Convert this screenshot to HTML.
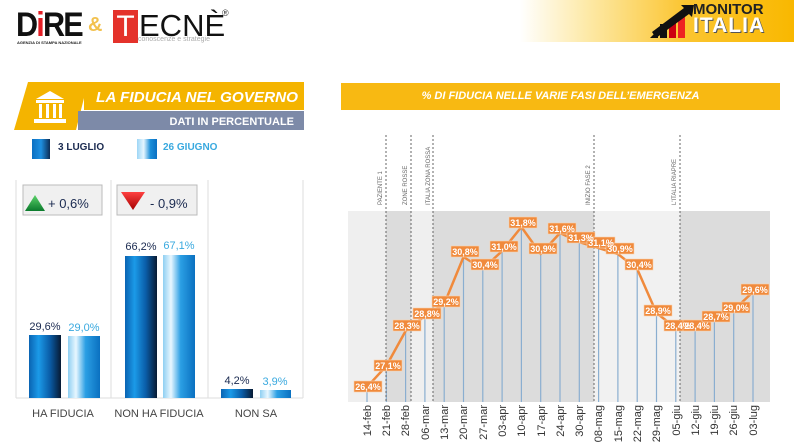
<!DOCTYPE html>
<html><head><meta charset="utf-8"><style>
body{margin:0;width:794px;height:446px;background:#fff;overflow:hidden;font-family:"Liberation Sans",sans-serif;position:relative}
.a{position:absolute}
</style></head><body>
<div class="a" style="left:520px;top:0;width:274px;height:42px;background:linear-gradient(90deg,#fff 0%,#fde9a6 25%,#fbc531 60%,#f9b800 100%)"></div>
<div class="a" style="left:16px;top:6px;font:900 34px 'Liberation Sans';color:#111;letter-spacing:-2px;transform:scaleX(0.9);transform-origin:left">D<span style="color:#e41e25">i</span>RE</div>
<div class="a" style="left:17px;top:40px;font:bold 4px 'Liberation Sans';color:#222">AGENZIA DI STAMPA NAZIONALE</div>
<div class="a" style="left:88px;top:14px;font:bold 20px 'Liberation Sans';color:#f2c14e">&amp;</div>
<div class="a" style="left:113px;top:10px;width:25px;height:33px;background:#e4322b;color:#fff;font:30px 'Liberation Sans';text-align:center;line-height:33px">T</div>
<div class="a" style="left:139px;top:9px;font:31px 'Liberation Sans';color:#111;line-height:33px">ECNÈ</div>
<div class="a" style="left:222px;top:8px;font:9px 'Liberation Sans';color:#333">®</div>
<div class="a" style="left:138px;top:36px;font:7px 'Liberation Sans';color:#aaa">conoscenze e strategie</div>
<svg class="a" style="left:648px;top:4px" width="62" height="36"><polygon points="2,34 10,26 10,34" fill="#111"/><rect x="12" y="20" width="7" height="14" fill="#111"/><rect x="21" y="16" width="7" height="18" fill="#c01"/><rect x="30" y="12" width="7" height="22" fill="#e22"/><polygon points="4,28 36,4 33,1 46,1 44,13 41,10 8,34" fill="#111"/></svg>
<div class="a" style="left:693px;top:1px;font:bold 15px 'Liberation Sans';color:#222">MONITOR</div>
<div class="a" style="left:693px;top:14px;font:900 21px 'Liberation Sans';color:#fff;text-shadow:1px 1px 0 #555;letter-spacing:1px">ITALIA</div>

<svg class="a" style="left:14px;top:80px" width="292" height="52">
<polygon points="14,2 74,2 62,50 0,50" fill="#f4b400"/>
<rect x="70" y="2" width="220" height="28" fill="#f4b400"/>
<rect x="64" y="31" width="226" height="19" fill="#7d8aa8"/>
<g fill="#fff"><polygon points="22,19 36,11 50,19"/><rect x="22" y="20" width="28" height="3"/><rect x="25" y="24" width="3" height="14"/><rect x="32" y="24" width="3" height="14"/><rect x="39" y="24" width="3" height="14"/><rect x="45" y="24" width="3" height="14"/><rect x="20" y="39" width="32" height="4"/></g>
<text x="82" y="22" font-family="Liberation Sans" font-weight="bold" font-style="italic" font-size="15" fill="#fff" textLength="202" lengthAdjust="spacingAndGlyphs">LA FIDUCIA NEL GOVERNO</text>
<text x="280" y="45" text-anchor="end" font-family="Liberation Sans" font-weight="bold" font-size="11" fill="#fff">DATI IN PERCENTUALE</text>
</svg>
<div class="a" style="left:32px;top:139px;width:18px;height:20px;background:linear-gradient(90deg,#0a6fc2,#1e8fe0,#0c2c55)"></div>
<div class="a" style="left:58px;top:142px;font:bold 10px 'Liberation Sans';color:#1a2a50">3 LUGLIO</div>
<div class="a" style="left:137px;top:139px;width:20px;height:20px;background:linear-gradient(90deg,#9dd6f6,#e6f6ff,#1b8fd9,#0a6fc2)"></div>
<div class="a" style="left:163px;top:142px;font:bold 10px 'Liberation Sans';color:#39a9df">26 GIUGNO</div>

<svg class="a" style="left:0;top:180px" width="320" height="266">
<defs>
<linearGradient id="d" x1="0" x2="1"><stop offset="0" stop-color="#0a63b2"/><stop offset=".3" stop-color="#1b9ae8"/><stop offset=".65" stop-color="#0a5da8"/><stop offset="1" stop-color="#071a33"/></linearGradient>
<linearGradient id="l" x1="0" x2="1"><stop offset="0" stop-color="#8fcff2"/><stop offset=".25" stop-color="#e8f7ff"/><stop offset=".55" stop-color="#2b9fe4"/><stop offset="1" stop-color="#0a70c0"/></linearGradient>
<linearGradient id="g" x1="0" y1="0" x2="0" y2="1"><stop offset="0" stop-color="#5cd36a"/><stop offset="1" stop-color="#0b7a2c"/></linearGradient>
<linearGradient id="r" x1="0" y1="0" x2="0" y2="1"><stop offset="0" stop-color="#ff4040"/><stop offset="1" stop-color="#a40000"/></linearGradient>
</defs>
<g stroke="#ddd"><line x1="16" y1="0" x2="16" y2="218"/><line x1="111" y1="0" x2="111" y2="218"/><line x1="208" y1="0" x2="208" y2="218"/><line x1="303" y1="0" x2="303" y2="218"/><line x1="16" y1="218" x2="303" y2="218"/></g>
<rect x="23" y="5" width="79" height="30" fill="#f0f0f0" stroke="#bbb"/>
<polygon points="25,31 35,15 45,31" fill="url(#g)"/>
<text x="48" y="28" font-family="Liberation Sans" font-size="13" fill="#1a2a50">+ 0,6%</text>
<rect x="117" y="5" width="80" height="30" fill="#f0f0f0" stroke="#bbb"/>
<polygon points="121,12 145,12 133,30" fill="url(#r)"/>
<text x="150" y="28" font-family="Liberation Sans" font-size="13" fill="#1a2a50">- 0,9%</text>
<rect x="29" y="155" width="32" height="63" fill="url(#d)"/>
<rect x="68" y="156" width="32" height="62" fill="url(#l)"/>
<rect x="125" y="76" width="32" height="142" fill="url(#d)"/>
<rect x="163" y="75" width="32" height="143" fill="url(#l)"/>
<rect x="221" y="209" width="32" height="9" fill="url(#d)"/>
<rect x="260" y="210" width="31" height="8" fill="url(#l)"/>
<g font-family="Liberation Sans" font-size="11" text-anchor="middle">
<text x="45" y="150" fill="#1a2a50">29,6%</text><text x="84" y="151" fill="#39a9df">29,0%</text>
<text x="141" y="70" fill="#1a2a50">66,2%</text><text x="179" y="69" fill="#39a9df">67,1%</text>
<text x="237" y="204" fill="#1a2a50">4,2%</text><text x="275" y="205" fill="#39a9df">3,9%</text>
</g>
<g font-family="Liberation Sans" font-size="11" text-anchor="middle" fill="#444">
<text x="63" y="237">HA FIDUCIA</text><text x="159" y="237">NON HA FIDUCIA</text><text x="256" y="237">NON SA</text>
</g>
</svg>

<div class="a" style="left:341px;top:83px;width:439px;height:27px;background:#f8b912;color:#fff;font:italic bold 11px 'Liberation Sans';text-align:center;line-height:27px">% DI FIDUCIA NELLE VARIE FASI DELL’EMERGENZA</div>
<svg class="a" style="left:0;top:0" width="794" height="446">
<rect x="348" y="211" width="38" height="191" fill="#efefef"/>
<rect x="386" y="211" width="25" height="191" fill="#dcdcdc"/>
<rect x="411" y="211" width="22" height="191" fill="#efefef"/>
<rect x="433" y="211" width="161" height="191" fill="#dcdcdc"/>
<rect x="594" y="211" width="86" height="191" fill="#f1f1f1"/>
<rect x="680" y="211" width="90" height="191" fill="#dcdcdc"/>
<g stroke="#8aaed0" stroke-width="1.2">
<line x1="367" y1="387" x2="367" y2="402"/><line x1="386.3" y1="366" x2="386.3" y2="402"/><line x1="405.6" y1="331" x2="405.6" y2="402"/><line x1="424.9" y1="316" x2="424.9" y2="402"/><line x1="444.2" y1="304" x2="444.2" y2="402"/><line x1="463.5" y1="257" x2="463.5" y2="402"/><line x1="482.8" y1="269" x2="482.8" y2="402"/><line x1="502.1" y1="251" x2="502.1" y2="402"/><line x1="521.4" y1="227" x2="521.4" y2="402"/><line x1="540.7" y1="254" x2="540.7" y2="402"/><line x1="560" y1="233" x2="560" y2="402"/><line x1="579.3" y1="242" x2="579.3" y2="402"/><line x1="598.6" y1="248" x2="598.6" y2="402"/><line x1="617.9" y1="254" x2="617.9" y2="402"/><line x1="637.2" y1="269" x2="637.2" y2="402"/><line x1="656.5" y1="313" x2="656.5" y2="402"/><line x1="675.8" y1="328" x2="675.8" y2="402"/><line x1="695.1" y1="328" x2="695.1" y2="402"/><line x1="714.4" y1="319" x2="714.4" y2="402"/><line x1="733.7" y1="310" x2="733.7" y2="402"/><line x1="753" y1="292" x2="753" y2="402"/>
</g>
<g stroke="#666" stroke-dasharray="2,2"><line x1="386" y1="135" x2="386" y2="402"/><line x1="411" y1="135" x2="411" y2="402"/><line x1="433" y1="135" x2="433" y2="402"/><line x1="594" y1="135" x2="594" y2="402"/><line x1="680" y1="135" x2="680" y2="402"/></g>
<g font-family="Liberation Sans" font-size="6" fill="#666">
<text transform="translate(382,205) rotate(-90)">PAZIENTE 1</text>
<text transform="translate(407,205) rotate(-90)">ZONE ROSSE</text>
<text transform="translate(430,205) rotate(-90)">ITALIA ZONA ROSSA</text>
<text transform="translate(590,205) rotate(-90)">INIZIO FASE 2</text>
<text transform="translate(676,205) rotate(-90)">L'ITALIA RIAPRE</text>
</g>
<polyline fill="none" stroke="#f08a3c" stroke-width="2.5" stroke-linejoin="round" points="367,387 386.3,366 405.6,331 424.9,316 444.2,304 463.5,257 482.8,269 502.1,251 521.4,227 540.7,254 560,233 579.3,242 598.6,248 617.9,254 637.2,269 656.5,313 675.8,328 695.1,328 714.4,319 733.7,310 753,292"/>
<g font-family="Liberation Sans" font-size="9" font-weight="bold" fill="#fff" text-anchor="middle">
<g fill="#f08a3c" stroke="#fbd3b0" stroke-width="0.6">
<rect x="354" y="381" width="28" height="11"/><rect x="374" y="360" width="28" height="11"/><rect x="393" y="320" width="28" height="11"/><rect x="413" y="308" width="28" height="11"/><rect x="432" y="296" width="28" height="11"/><rect x="451" y="246" width="28" height="11"/><rect x="471" y="259" width="28" height="11"/><rect x="490" y="241" width="28" height="11"/><rect x="509" y="217" width="28" height="11"/><rect x="529" y="243" width="28" height="11"/><rect x="548" y="223" width="28" height="11"/><rect x="567" y="232" width="28" height="11"/><rect x="587" y="237" width="28" height="11"/><rect x="606" y="243" width="28" height="11"/><rect x="625" y="259" width="28" height="11"/><rect x="644" y="305" width="28" height="11"/><rect x="664" y="320" width="28" height="11"/><rect x="683" y="320" width="28" height="11"/><rect x="702" y="311" width="28" height="11"/><rect x="722" y="302" width="28" height="11"/><rect x="741" y="284" width="28" height="11"/>
</g>
<text x="368" y="390">26,4%</text><text x="388" y="369">27,1%</text><text x="407" y="329">28,3%</text><text x="427" y="317">28,8%</text><text x="446" y="305">29,2%</text><text x="465" y="255">30,8%</text><text x="485" y="268">30,4%</text><text x="504" y="250">31,0%</text><text x="523" y="226">31,8%</text><text x="543" y="252">30,9%</text><text x="562" y="232">31,6%</text><text x="581" y="241">31,3%</text><text x="601" y="246">31,1%</text><text x="620" y="252">30,9%</text><text x="639" y="268">30,4%</text><text x="658" y="314">28,9%</text><text x="678" y="329">28,4%</text><text x="697" y="329">28,4%</text><text x="716" y="320">28,7%</text><text x="736" y="311">29,0%</text><text x="755" y="293">29,6%</text>
</g>
<g font-family="Liberation Sans" font-size="11" fill="#333" text-anchor="end">
<text transform="translate(371,405) rotate(-90)">14-feb</text><text transform="translate(390,405) rotate(-90)">21-feb</text><text transform="translate(409,405) rotate(-90)">28-feb</text><text transform="translate(429,405) rotate(-90)">06-mar</text><text transform="translate(448,405) rotate(-90)">13-mar</text><text transform="translate(467,405) rotate(-90)">20-mar</text><text transform="translate(487,405) rotate(-90)">27-mar</text><text transform="translate(506,405) rotate(-90)">03-apr</text><text transform="translate(525,405) rotate(-90)">10-apr</text><text transform="translate(545,405) rotate(-90)">17-apr</text><text transform="translate(564,405) rotate(-90)">24-apr</text><text transform="translate(583,405) rotate(-90)">30-apr</text><text transform="translate(602,405) rotate(-90)">08-mag</text><text transform="translate(622,405) rotate(-90)">15-mag</text><text transform="translate(641,405) rotate(-90)">22-mag</text><text transform="translate(660,405) rotate(-90)">29-mag</text><text transform="translate(680,405) rotate(-90)">05-giu</text><text transform="translate(699,405) rotate(-90)">12-giu</text><text transform="translate(718,405) rotate(-90)">19-giu</text><text transform="translate(737,405) rotate(-90)">26-giu</text><text transform="translate(757,405) rotate(-90)">03-lug</text>
</g>
</svg>
</body></html>
